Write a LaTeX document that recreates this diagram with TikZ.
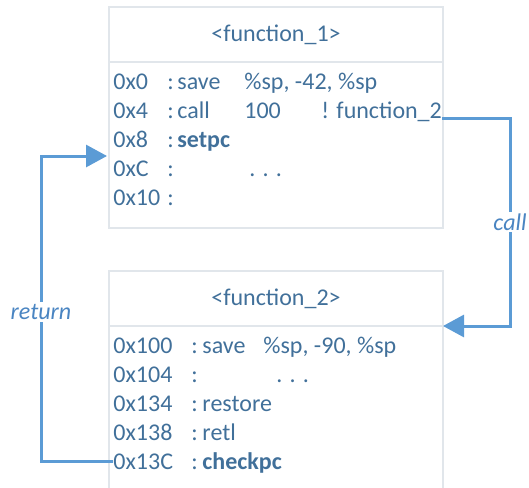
\documentclass[tikz,border=0pt]{standalone}
\usepackage{fontspec}
\setmainfont{Carlito}
\usetikzlibrary{positioning,arrows.meta}

\definecolor{txtblue}{HTML}{41709A}
\definecolor{lineblue}{HTML}{5B9BD5}
\definecolor{boxgray}{HTML}{E1E6EB}
\definecolor{lblblue}{HTML}{4A85C2}

\tikzset{
  head/.style={draw=boxgray, line width=1pt, minimum width=167pt, minimum height=27.5pt, inner sep=0pt, outer sep=0pt, text=txtblue},
  body/.style={draw=boxgray, line width=1pt, minimum width=167pt, inner sep=0pt, outer sep=0pt},
  codeline/.style={anchor=base west, inner sep=0pt, text height=8pt, text depth=0pt, text=txtblue},
  conn/.style={draw=lineblue, line width=1.5pt, -{Triangle[length=10.5pt,width=11pt]}},
  lbl/.style={fill=white, inner sep=1pt, text=lblblue, font=\fontsize{12}{14}\selectfont\itshape}
}

\begin{document}
\begin{tikzpicture}[x=0.5pt, y=-0.5pt, font=\fontsize{12}{14}\selectfont]
  \useasboundingbox (0,0) rectangle (529,487);

  % Boxes
  \node[head] (f1head) at (276,34.5) {<function\_1>};
  \node[body, minimum height=83pt, below=0pt of f1head] (f1body) {};
  \node[head] (f2head) at (276,298.5) {<function\_2>};
  \node[body, minimum height=90pt, below=0pt of f2head] (f2body) {};

  % function_1 code
  \node[codeline] (l1) at (113,89)  {\makebox[27pt][l]{0x0}\makebox[5pt][l]{:}\makebox[33.5pt][l]{save}\%sp, -42, \%sp};
  \node[codeline] (l2) at (113,118) {\makebox[27pt][l]{0x4}\makebox[5pt][l]{:}\makebox[33.5pt][l]{call}\makebox[38.5pt][l]{100}! function\_2};
  \node[codeline] (l3) at (113,147) {\makebox[27pt][l]{0x8}\makebox[5pt][l]{:}\textbf{setpc}};
  \node[codeline] (l4) at (113,176) {\makebox[27pt][l]{0xC}\makebox[5pt][l]{:}\hspace{36pt}. . .};
  \node[codeline] (l5) at (113,205) {\makebox[27pt][l]{0x10}\makebox[5pt][l]{:}};

  % function_2 code
  \node[codeline] (m1) at (113,353) {\makebox[39pt][l]{0x100}\makebox[5.5pt][l]{:}\makebox[30.5pt][l]{save}\%sp, -90, \%sp};
  \node[codeline] (m2) at (113,382) {\makebox[39pt][l]{0x104}\makebox[5.5pt][l]{:}\hspace{37pt}. . .};
  \node[codeline] (m3) at (113,411) {\makebox[39pt][l]{0x134}\makebox[5.5pt][l]{:}restore};
  \node[codeline] (m4) at (113,440) {\makebox[39pt][l]{0x138}\makebox[5.5pt][l]{:}retl};
  \node[codeline] (m5) at (113,469) {\makebox[39pt][l]{0x13C}\makebox[5.5pt][l]{:}\textbf{checkpc}};

  % call / return
  \coordinate (callx) at (510,0);
  \coordinate (retx) at (41,0);
  \coordinate (retin) at (107,156);
  \draw[conn] (l2.base east) -- (l2.base east -| callx) |- (f2head.south east);
  \draw[conn] (m5.west) -- (m5.west -| retx) |- (retin);
  \node[lbl] (calllbl) at (510,222) {call};
  \node[lbl] (retlbl) at (41,312) {return};
\end{tikzpicture}
\end{document}
